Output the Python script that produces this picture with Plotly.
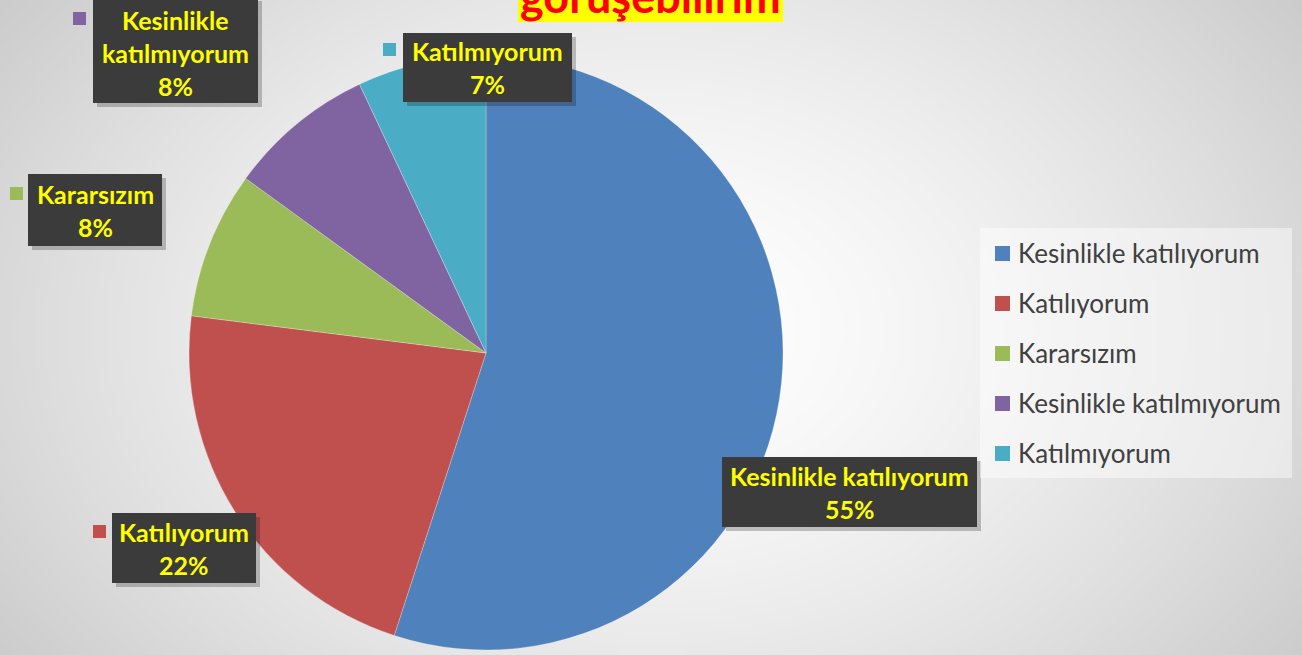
import base64, struct, zlib
import numpy as np
import plotly.graph_objects as go

# ---- data ----
labels = ["Kesinlikle katılıyorum", "Katılıyorum", "Kararsızım",
          "Kesinlikle katılmıyorum", "Katılmıyorum"]
values = [55, 22, 8, 8, 7]
colors = ["#4F81BD", "#C0504D", "#9BBB59", "#8064A2", "#4BACC6"]
label_lines = [["Kesinlikle katılıyorum"], ["Katılıyorum"], ["Kararsızım"],
               ["Kesinlikle", "katılmıyorum"], ["Katılmıyorum"]]
title_text = "görüşebilirim"

W, H = 1302, 655

def px(x):
    return x / W

def py(y):
    return 1 - y / H

# ---- background radial gradient as PNG ----
def make_png(arr):
    h, w = arr.shape
    raw = b"".join(b"\x00" + arr[i].tobytes() for i in range(h))
    def chunk(tag, data):
        return (struct.pack(">I", len(data)) + tag + data +
                struct.pack(">I", zlib.crc32(tag + data) & 0xffffffff))
    ihdr = struct.pack(">IIBBBBB", w, h, 8, 0, 0, 0, 0)
    return (b"\x89PNG\r\n\x1a\n" + chunk(b"IHDR", ihdr) +
            chunk(b"IDAT", zlib.compress(raw, 9)) + chunk(b"IEND", b""))

gw, gh = 651, 328
yy, xx = np.mgrid[0:gh, 0:gw]
dx = (xx * 2 - 651) / 700.0
dy = (yy * 2 - 330) / 500.0
d = np.sqrt(dx ** 2 + dy ** 2)
val = np.clip(255 - 42 * d ** 1.5, 190, 255).astype(np.uint8)
bg_uri = "data:image/png;base64," + base64.b64encode(make_png(val)).decode()

fig = go.Figure()
fig.add_trace(go.Pie(
    labels=labels, values=values, sort=False, direction="clockwise",
    rotation=0, textinfo="none", hoverinfo="label+percent",
    marker=dict(colors=colors, line=dict(color="rgba(255,255,255,0.5)", width=0.5)),
    domain=dict(x=[px(189), px(783)], y=[py(650), py(56)]),
    showlegend=False,
))

shapes = []
annotations = []

# ---- data label boxes (layout positions) ----
# box x0, y0, x1, y1 in px; key square x, y (top-left)
boxes = [
    (722, 457, 977, 527, 703, 469),
    (112, 513, 256, 583, 93, 525),
    (28, 174, 162, 246, 10, 187),
    (93, -3, 258, 103, 73, 12),
    (403, 33, 572, 102, 383, 43),
]
LINE = 33
total = sum(values)
for i, (x0, y0, x1, y1, kx, ky) in enumerate(boxes):
    shapes.append(dict(type="rect", xref="paper", yref="paper",
                       x0=px(x0 + 4), x1=px(x1 + 4), y0=py(y1 + 4), y1=py(y0 + 4),
                       fillcolor="rgba(0,0,0,0.22)", line=dict(width=0)))
    shapes.append(dict(type="rect", xref="paper", yref="paper",
                       x0=px(x0), x1=px(x1), y0=py(y1), y1=py(y0),
                       fillcolor="#3B3B3B", line=dict(width=0)))
    shapes.append(dict(type="rect", xref="paper", yref="paper",
                       x0=px(kx), x1=px(kx + 13), y0=py(ky + 13), y1=py(ky),
                       fillcolor=colors[i], line=dict(width=0)))
    lines = label_lines[i] + [f"{round(values[i] / total * 100)}%"]
    cy = (y0 + y1) / 2 if i != 3 else 53
    cx = (x0 + x1) / 2
    n = len(lines)
    for j, t in enumerate(lines):
        ly = cy + (j - (n - 1) / 2) * LINE
        annotations.append(dict(
            text=f"<b>{t}</b>", xref="paper", yref="paper",
            x=px(cx), y=py(ly), xanchor="center", yanchor="middle",
            showarrow=False,
            font=dict(family="Lato", size=25, color="#FFFF00"),
        ))

# ---- legend (manual) ----
shapes.append(dict(type="rect", xref="paper", yref="paper",
                   x0=px(980), x1=px(1292), y0=py(478), y1=py(228),
                   fillcolor="rgba(255,255,255,0.45)", line=dict(width=0)))
for i, lab in enumerate(labels):
    cy = 253 + 50 * i
    shapes.append(dict(type="rect", xref="paper", yref="paper",
                       x0=px(995), x1=px(1010), y0=py(cy + 8), y1=py(cy - 7),
                       fillcolor=colors[i], line=dict(width=0)))
    annotations.append(dict(
        text=lab, xref="paper", yref="paper", x=px(1016), y=py(cy),
        xanchor="left", yanchor="middle", showarrow=False,
        font=dict(family="Lato", size=26, color="#404040"),
    ))

# ---- title (cut off at top) ----
shapes.append(dict(type="rect", xref="paper", yref="paper",
                   x0=px(518), x1=px(783), y0=py(22), y1=py(-20),
                   fillcolor="#FFFF00", line=dict(width=0)))
annotations.append(dict(
    text=f"<b>{title_text}</b>", xref="paper", yref="paper",
    x=px(650), y=py(-4), xanchor="center", yanchor="middle",
    showarrow=False, font=dict(family="Lato", size=45, color="#FF0000"),
))

fig.update_layout(
    width=W, height=H,
    margin=dict(l=0, r=0, t=0, b=0),
    paper_bgcolor="#E6E6E6",
    plot_bgcolor="rgba(0,0,0,0)",
    shapes=shapes,
    annotations=annotations,
    images=[dict(source=bg_uri, xref="paper", yref="paper", x=0, y=1,
                 sizex=1, sizey=1, sizing="stretch", layer="below",
                 xanchor="left", yanchor="top")],
)

fig.write_html(
    "out.html",
    config={"displayModeBar": False},
    post_script="document.body.style.margin='0';document.body.style.overflow='hidden';",
)
